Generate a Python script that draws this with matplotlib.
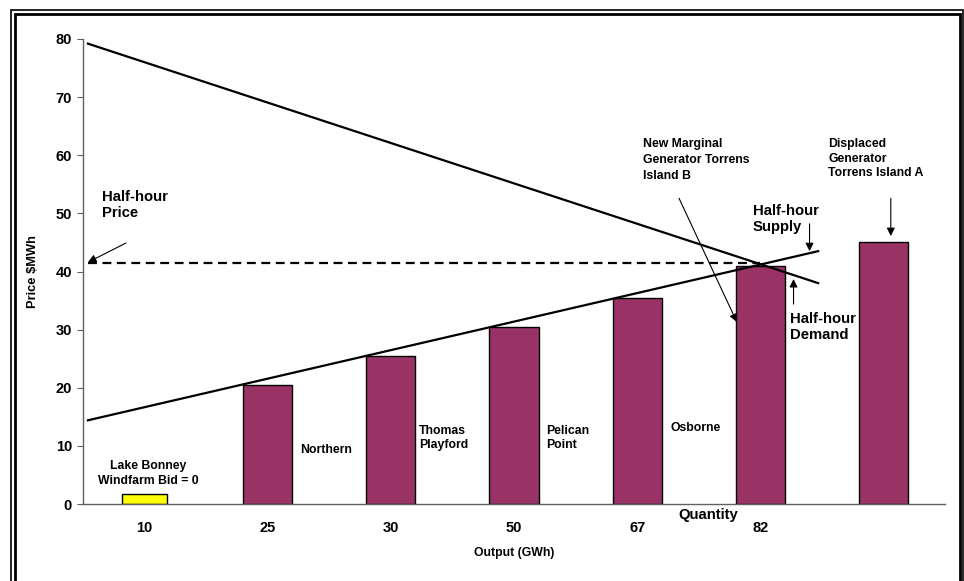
import matplotlib
matplotlib.use("Agg")
import matplotlib.pyplot as plt
from matplotlib.patches import Rectangle

plt.rcParams['font.family'] = ['Liberation Sans', 'DejaVu Sans']
plt.rcParams['font.weight'] = 'bold'

# ---- data ----
categories = ["10", "25", "30", "50", "67", "82", ""]
bar_values = [1.8, 20.5, 25.5, 30.5, 35.5, 41.0, 45.0]
bar_colors = ["#FFFF00", "#993366", "#993366", "#993366", "#993366", "#993366", "#993366"]
bar_widths = [0.36, 0.4, 0.4, 0.4, 0.4, 0.4, 0.4]
bar_labels = ["", "Northern", "Thomas\nPlayford", "Pelican\nPoint", "Osborne", "", ""]
demand_x = [-0.46, 5.47]
demand_y = [79.2, 38.0]
supply_x = [-0.46, 5.47]
supply_y = [14.4, 43.5]
price_level = 41.5
price_x = [-0.46, 5.0]
yticks = [0, 10, 20, 30, 40, 50, 60, 70, 80]

SMALL = 8.8
BIG = 10.7

fig = plt.figure(figsize=(9.64, 5.81), dpi=100)
W, H = 964, 581
ax = fig.add_axes([83 / W, (581 - 504) / H, 862 / W, 465 / H])

x = list(range(len(categories)))
ax.bar(x, bar_values, width=bar_widths, color=bar_colors, edgecolor="black", linewidth=1.0, zorder=2)

ax.plot(demand_x, demand_y, color="black", lw=1.6, zorder=3)
ax.plot(supply_x, supply_y, color="black", lw=1.6, zorder=3)
ax.plot(price_x, [price_level, price_level], color="black", lw=1.6, ls=(0, (4, 2.5)), zorder=3)

ax.set_xlim(-0.5, 6.5)
ax.set_ylim(0, 80)
ax.set_yticks(yticks)
ax.set_xticks(x)
ax.set_xticklabels(categories, fontsize=10.5, fontweight="bold")
ax.tick_params(axis="x", length=0, pad=12)
ax.tick_params(axis="y", length=4, direction="out", labelsize=10.5, pad=4, color="#606060")
for lab in ax.get_yticklabels():
    lab.set_fontweight("bold")
for s in ["top", "right"]:
    ax.spines[s].set_visible(False)
for s in ["left", "bottom"]:
    ax.spines[s].set_color("#606060")
    ax.spines[s].set_linewidth(1.0)

ax.set_xlabel("Output (GWh)", fontsize=SMALL, fontweight="bold", labelpad=9)
ax.set_ylabel("Price $MWh", fontsize=9.3, fontweight="bold", labelpad=12)

# bar labels
label_pos = {1: (1.26, 9.3), 2: (2.23, 11.4), 3: (3.26, 11.4), 4: (4.27, 13.1)}
for i, (lx, ly) in label_pos.items():
    ax.text(lx, ly, bar_labels[i], fontsize=SMALL, fontweight="bold", ha="left", va="center",
            linespacing=1.2)

ax.text(0.028, 5.3, "Lake Bonney\nWindfarm Bid = 0", fontsize=SMALL, fontweight="bold",
        ha="center", va="center", linespacing=1.35)

ax.text(4.58, -1.9, "Quantity", fontsize=BIG, fontweight="bold", ha="center", va="center",
        clip_on=False)

arrow = dict(arrowstyle="-|>", color="black", lw=0.8, mutation_scale=12, shrinkA=0, shrinkB=0)

ax.text(-0.346, 51.4, "Half-hour\nPrice", fontsize=BIG, fontweight="bold", ha="left", va="center",
        linespacing=1.2)
ax.annotate("", xy=(-0.459, 41.6), xytext=(-0.151, 44.9), arrowprops=arrow)

ax.text(4.05, 59.2, "New Marginal\nGenerator Torrens\nIsland B", fontsize=SMALL, fontweight="bold",
        ha="left", va="center", linespacing=1.45)
ax.annotate("", xy=(4.81, 31.3), xytext=(4.34, 52.6), arrowprops=arrow)

ax.text(5.55, 59.4, "Displaced\nGenerator\nTorrens Island A", fontsize=SMALL, fontweight="bold",
        ha="left", va="center", linespacing=1.3)
ax.annotate("", xy=(6.06, 46.1), xytext=(6.06, 52.6), arrowprops=arrow)

ax.text(4.94, 49.0, "Half-hour\nSupply", fontsize=BIG, fontweight="bold", ha="left", va="center",
        linespacing=1.15)
ax.annotate("", xy=(5.40, 43.5), xytext=(5.40, 48.2), arrowprops=arrow)

ax.text(5.24, 30.5, "Half-hour\nDemand", fontsize=BIG, fontweight="bold", ha="left", va="center",
        linespacing=1.15)
ax.annotate("", xy=(5.27, 38.7), xytext=(5.27, 34.4), arrowprops=arrow)

# double border frame
fig.patches.append(Rectangle((11 / W, -0.05), (963 - 11) / W, (581 - 10) / H + 0.05,
                             transform=fig.transFigure, fill=False, edgecolor="black", lw=1.2))
fig.patches.append(Rectangle((14.5 / W, -0.05), (960 - 14.5) / W, (581 - 13.5) / H + 0.05,
                             transform=fig.transFigure, fill=False, edgecolor="black", lw=2.0))

fig.savefig("out.png", dpi=100)
